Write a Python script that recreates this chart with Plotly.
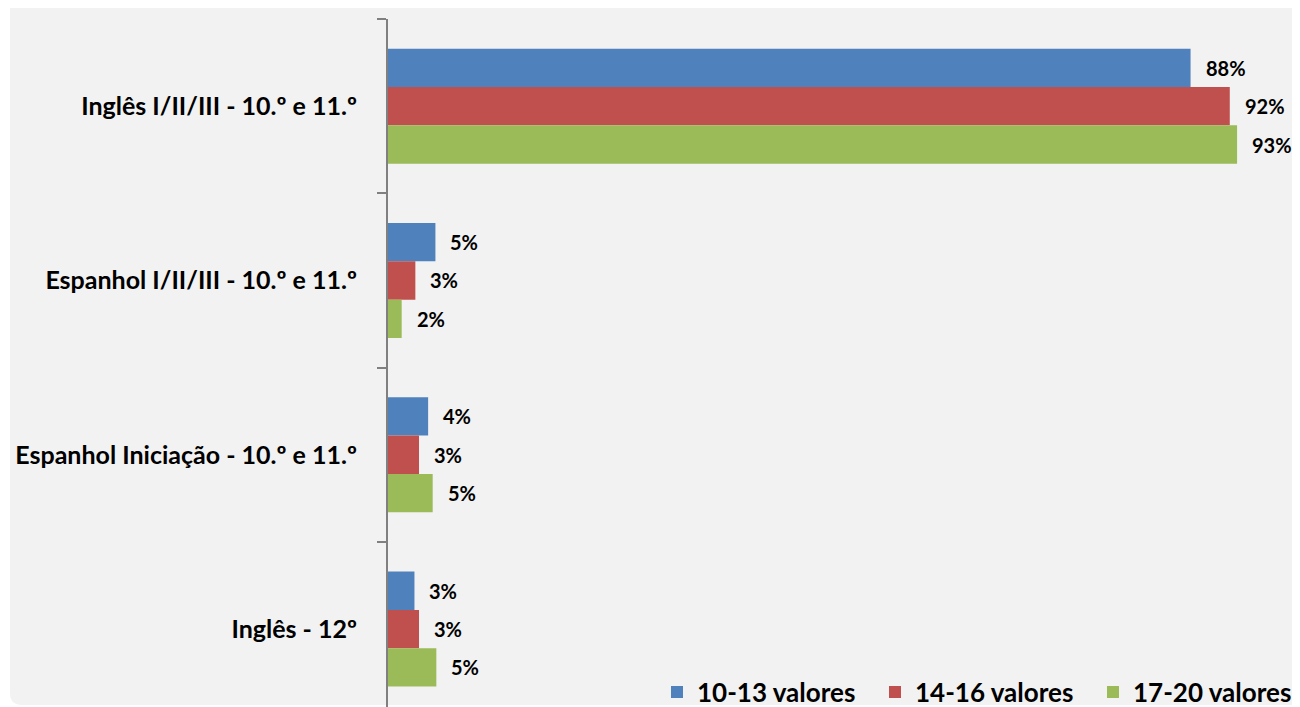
import plotly.graph_objects as go

categories = [
    "Inglês I/II/III - 10.º e 11.º",
    "Espanhol I/II/III - 10.º e 11.º",
    "Espanhol Iniciação - 10.º e 11.º",
    "Inglês - 12º",
]
series_names = ["10-13 valores", "14-16 valores", "17-20 valores"]
v_10_13 = [88.0, 5.2, 4.4, 2.9]
v_14_16 = [92.3, 3.0, 3.4, 3.4]
v_17_20 = [93.1, 1.5, 4.9, 5.3]
series_values = [v_10_13, v_14_16, v_17_20]
colors = ["#4F81BD", "#C0504D", "#9BBB59"]

# page has an 8px body margin: figure is sized/shifted to fit the window
OFF = 8
W, H = 1300 - OFF, 707 - OFF
L, R, T, B = 388 - OFF, 0, 11, 0
PW, PH = W - L - R, H - T - B
FONT = "Lato"

def px2paper(x, y):
    # x, y in page pixels
    x -= OFF
    y -= OFF
    return (x - L) / PW, (H - B - y) / PH

fig = go.Figure()
for name, vals, col in zip(series_names, series_values, colors):
    fig.add_trace(go.Bar(
        y=categories, x=vals, name=name, orientation="h",
        marker=dict(color=col, line=dict(width=0)),
    ))

# data labels
nser = len(series_values)
bw = (1 - 0.34) / nser
annotations = []
for i, vals in enumerate(series_values):
    for j, v in enumerate(vals):
        annotations.append(dict(
            x=v, y=j + (i - (nser - 1) / 2) * bw, xref="x", yref="y",
            text=f"{v:.0f}%", showarrow=False, xanchor="left", yanchor="middle",
            xshift=13, font=dict(family=FONT, size=20, color="#000000", weight="bold"),
        ))

# rounded background panel
x0, y0 = px2paper(10, 0)
x1, y1 = px2paper(1300, 705)
rx = 12 / PW
ry = 12 / PH
path = (f"M {x0},{y0} L {x1},{y0} L {x1},{y1} L {x0+rx},{y1} "
        f"Q {x0},{y1} {x0},{y1+ry} Z")

lx, _ = px2paper(682 - 25, 0)
_, ly = px2paper(0, 692)

fig.update_layout(
    width=W, height=H,
    margin=dict(l=L, r=R, t=T, b=B, autoexpand=False),
    paper_bgcolor="#FFFFFF",
    plot_bgcolor="rgba(0,0,0,0)",
    barmode="group", bargap=0.34, bargroupgap=0,
    font=dict(family=FONT, color="#000000"),
    shapes=[dict(type="path", path=path, xref="paper", yref="paper",
                 fillcolor="#F2F2F2", line=dict(width=0), layer="below")],
    annotations=annotations,
    xaxis=dict(range=[0, 100], visible=False, showgrid=False, zeroline=False),
    yaxis=dict(
        type="category", range=[3.447, -0.5],
        showline=True, linecolor="#808080", linewidth=2,
        ticks="outside", ticklen=9, tickcolor="#808080", tickwidth=2,
        tickson="boundaries", showgrid=False, zeroline=False,
        ticklabelstandoff=24,
        tickfont=dict(family=FONT, size=25, color="#000000", weight="bold"),
    ),
    legend=dict(
        orientation="h", x=lx, xanchor="left", y=ly, yanchor="middle",
        bgcolor="rgba(0,0,0,0)", traceorder="normal",
        font=dict(family=FONT, size=26, color="#000000", weight="bold"),
        entrywidth=173, entrywidthmode="pixels",
    ),
)

fig.write_html("out.html")
